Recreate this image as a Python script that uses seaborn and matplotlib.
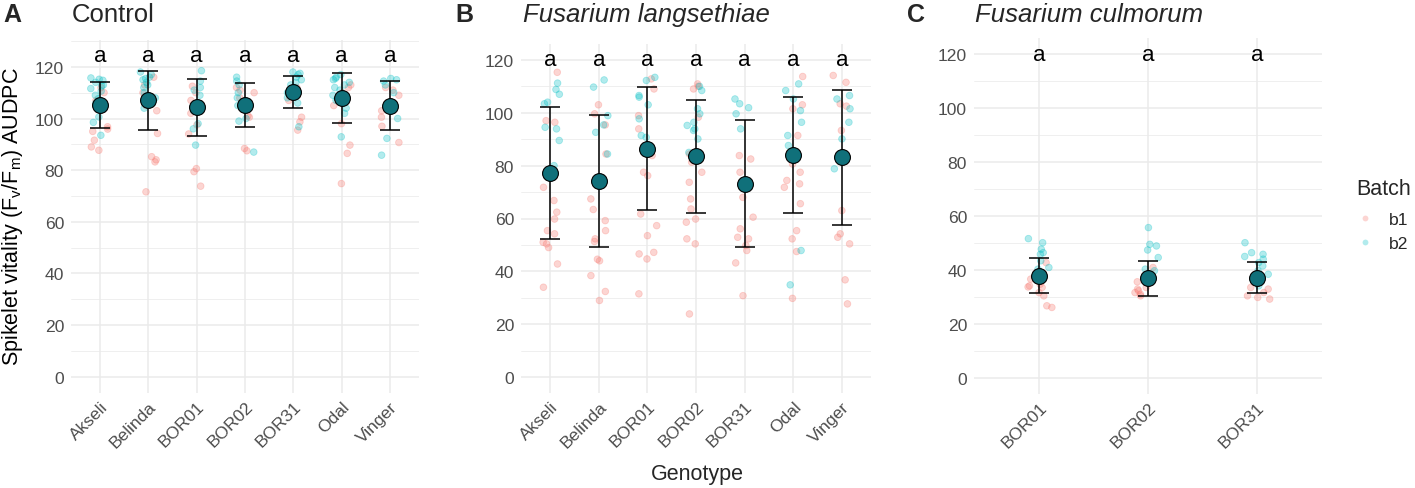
import numpy as np
import pandas as pd
import seaborn as sns
import matplotlib.pyplot as plt
from matplotlib.ticker import MultipleLocator

sns.set_theme(style="white")
plt.rcParams["font.family"] = ["Liberation Sans", "DejaVu Sans"]
np.random.seed(3)

genos_ab = ["Akseli", "Belinda", "BOR01", "BOR02", "BOR31", "Odal", "Vinger"]
genos_c = ["BOR01", "BOR02", "BOR31"]

# Control, batch b1 / b2
ctrl_b1 = {
    "Akseli": [112, 110, 107, 103, 96.8, 95.9, 95.0, 91.6, 89.0, 87.7],
    "Belinda": [116, 113, 110, 105, 103, 94.2, 85.2, 84.0, 83.2, 71.6],
    "BOR01": [112.5, 110, 107, 102, 97.5, 94, 80.6, 79.4, 73.8],
    "BOR02": [112, 111, 110, 108, 104, 101, 100.5, 88.4, 87.5],
    "BOR31": [112, 111, 109, 107, 100.5, 98.7, 95.5],
    "Odal": [113, 112, 110, 105, 98, 89.7, 86.5, 74.8],
    "Vinger": [112, 111, 109, 106, 103, 100.5, 97, 90.7],
}
ctrl_b2 = {
    "Akseli": [115.7, 115.2, 114.8, 114, 113, 112.6, 111.6, 110.6, 109, 107.7, 106, 104, 100.6, 98.5, 93.5],
    "Belinda": [118, 117, 116, 115.5, 115, 114, 113, 112, 110, 109, 108, 106, 104],
    "BOR01": [118.5, 114.5, 112, 111, 109, 103, 98, 96, 89.7],
    "BOR02": [116, 114.5, 113, 110, 108, 105, 100, 99, 87],
    "BOR31": [118, 117.5, 117, 116, 115, 114, 113, 112, 110, 108, 106, 96.8],
    "Odal": [117, 116, 115.5, 115, 114, 113, 112, 111, 109, 107, 104, 102, 92.9],
    "Vinger": [115.5, 115, 114.5, 113, 110, 100, 92.3, 85.8],
}

# Fusarium langsethiae
fl_b1 = {
    "Akseli": [115.3, 97, 96.4, 71.8, 66.8, 62.4, 59.8, 55.4, 54.2, 51, 50.4, 49, 42.8, 34],
    "Belinda": [103, 99.6, 95.4, 84.4, 67.4, 63.4, 59.2, 55.4, 52.3, 51.3, 44.6, 44, 38.4, 32.4, 29],
    "BOR01": [112.8, 109, 98.9, 93.9, 83.8, 77.5, 76.2, 61.7, 57.3, 53.5, 47.2, 46.6, 44.7, 31.5],
    "BOR02": [110.9, 110, 109, 98.3, 84.4, 81.3, 77.5, 73.7, 67.4, 63.6, 59.8, 58.6, 52.3, 50.4, 23.9],
    "BOR31": [83.8, 82.5, 77.5, 68, 60.5, 56.1, 52.9, 52.3, 49.8, 47.9, 43.2, 30.8],
    "Odal": [113.7, 103, 101.5, 91.4, 83.8, 80.6, 77.5, 74.4, 73.1, 71.8, 65.6, 55.4, 52.3, 47.5, 29.8],
    "Vinger": [114.1, 111.5, 103.4, 102.5, 93.3, 63, 54.2, 52.9, 50.4, 36.8, 27.7],
}
fl_b2 = {
    "Akseli": [111.2, 108.8, 107, 104, 103.4, 94.5, 93.9, 89.5, 80],
    "Belinda": [112.4, 109.7, 98.9, 95.4, 92.6, 84.4],
    "BOR01": [113.4, 112.2, 106.5, 105.9, 103, 97.7, 91.4, 90.7, 87],
    "BOR02": [110, 108.4, 101.5, 99.6, 96.4, 95.2, 93.9, 93.3, 90.1, 85],
    "BOR31": [105.2, 103.4, 101.9, 99.6, 93.9],
    "Odal": [110.9, 108.4, 105.2, 100.8, 96.4, 91.4, 87.6, 47.9, 34.9],
    "Vinger": [106.5, 105.2, 101.5, 96.4, 90.1, 84.4, 78.8],
}

# Fusarium culmorum
fc_b1 = {
    "BOR01": [42.7, 36.6, 34.7, 34.1, 33.7, 33.5, 31.6, 30.4, 26.7, 26.1],
    "BOR02": [40.9, 35.6, 33.5, 32.9, 32.3, 31.6, 31, 30.4],
    "BOR31": [33.5, 32.9, 31.6, 30.4, 29.8, 29.2],
}
fc_b2 = {
    "BOR01": [51.6, 50.1, 47.7, 46.4, 45.8, 43.4, 40.9, 40.3, 38.4],
    "BOR02": [55.7, 49.5, 48.9, 47.4, 44.6, 40.3, 39.7, 37.8, 36.6],
    "BOR31": [50.1, 46.4, 45.8, 45, 44, 42.7, 41.5, 39.7, 38.4, 36.6, 34.1],
}

# mean +- sd per genotype
ctrl_mean = [105.3, 107.0, 104.3, 105.1, 110.2, 108.0, 105.0]
ctrl_sd = [9.0, 11.4, 11.0, 8.5, 6.1, 9.7, 9.5]
fl_mean = [77.3, 74.2, 86.4, 83.5, 73.2, 83.9, 83.1]
fl_sd = [25.0, 25.0, 23.2, 21.3, 24.1, 21.9, 25.5]
fc_mean = [37.8, 37.0, 37.1]
fc_sd = [6.5, 6.5, 5.8]

letters_ab = ["a"] * 7
letters_c = ["a"] * 3
letter_y = [124.5, 120, 120]

pal = {"b1": "#F8766D", "b2": "#00BFC4"}


def long_df(b1, b2):
    rows = []
    for batch, d in (("b1", b1), ("b2", b2)):
        for g, vals in d.items():
            for v in vals:
                rows.append((g, batch, v))
    return pd.DataFrame(rows, columns=["Genotype", "Batch", "AUDPC"])


W, H = 1415, 489
fig = plt.figure(figsize=(W / 100, H / 100), dpi=100)


def px_axes(left, right, top, bottom):
    return fig.add_axes([left / W, 1 - bottom / H, (right - left) / W, (bottom - top) / H])


panels = [
    (px_axes(71, 419, 41, 394), ctrl_b1, ctrl_b2, genos_ab, ctrl_mean, ctrl_sd, letters_ab, (-6.3, 130.4), 0.2),
    (px_axes(521, 871, 45, 394), fl_b1, fl_b2, genos_ab, fl_mean, fl_sd, letters_ab, (-6, 126), 0.2),
    (px_axes(974, 1322, 39, 395), fc_b1, fc_b2, genos_c, fc_mean, fc_sd, letters_c, (-6, 126), 0.12),
]

for i, (ax, b1, b2, genos, mean, sd, lets, ylim, jit) in enumerate(panels):
    df = long_df(b1, b2)
    sns.stripplot(data=df, x="Genotype", y="AUDPC", hue="Batch", order=genos,
                  hue_order=["b1", "b2"], palette=pal, jitter=jit, alpha=0.3,
                  size=4.8, linewidth=0.6, edgecolor=None, legend=(i == 2), ax=ax, zorder=2)
    for c in ax.collections:
        c.set_edgecolor(c.get_facecolor())
    xs = np.arange(len(genos))
    ax.errorbar(xs, mean, yerr=sd, fmt="none", ecolor="black", elinewidth=1.1,
                capsize=7.5, capthick=1.1, zorder=3)
    sns.scatterplot(x=xs, y=mean, color="#10707A", edgecolor="black", linewidth=0.8,
                    s=130, ax=ax, zorder=4, legend=False)
    for x, t in zip(xs, lets):
        ax.text(x, letter_y[i], t, ha="center", va="center", fontsize=16, color="black")

    ax.set_xlim(-0.6, len(genos) - 0.4)
    ax.set_ylim(*ylim)
    ax.set_yticks([0, 20, 40, 60, 80, 100, 120])
    ax.yaxis.set_minor_locator(MultipleLocator(10))
    ax.grid(axis="y", which="major", color="#EBEBEB", linewidth=1.1, zorder=0)
    ax.grid(axis="y", which="minor", color="#EBEBEB", linewidth=0.55, zorder=0)
    ax.grid(axis="x", which="major", color="#EBEBEB", linewidth=1.1, zorder=0)
    ax.set_axisbelow(True)
    for s in ax.spines.values():
        s.set_visible(False)
    ax.tick_params(axis="both", which="both", length=0, labelsize=12.6, labelcolor="#4D4D4D")
    ax.tick_params(axis="y", pad=5)
    ax.tick_params(axis="x", pad=4)
    for lab in ax.get_xticklabels():
        lab.set_rotation(45)
        lab.set_ha("right")
        lab.set_va("top")
        lab.set_rotation_mode("anchor")
    ax.set_xlabel("")
    ax.set_ylabel("")

ax_a, ax_b, ax_c = panels[0][0], panels[1][0], panels[2][0]

fig.text(13 / W, 1 - 217 / H, r"Spikelet vitality (F$_\mathregular{v}$/F$_\mathregular{m}$) AUDPC",
         rotation=90, ha="center", va="center", fontsize=15.5, color="black")

fig.text(697 / W, 1 - 475 / H, "Genotype", ha="center", va="center", fontsize=15.5)

base_y = 1 - 22 / H
fig.text(3 / W, base_y, "A", fontsize=18, fontweight="bold", va="baseline")
fig.text(455 / W, base_y, "B", fontsize=18, fontweight="bold", va="baseline")
fig.text(907 / W, base_y, "C", fontsize=18, fontweight="bold", va="baseline")
fig.text(72 / W, base_y, "Control", fontsize=18.5, va="baseline")
fig.text(523 / W, base_y, "Fusarium langsethiae", fontsize=18.5, style="italic", va="baseline")
fig.text(975 / W, base_y, "Fusarium culmorum", fontsize=18.5, style="italic", va="baseline")

sns.move_legend(ax_c, loc="upper left", bbox_to_anchor=(1356 / W, 1 - 179 / H),
                bbox_transform=fig.transFigure, title="Batch", frameon=False,
                fontsize=12.6, title_fontsize=15.5, handletextpad=0.9, labelspacing=0.5,
                borderpad=0, borderaxespad=0, handlelength=1.0, alignment="left")
leg = ax_c.get_legend()
leg._legend_box.sep = 9
for h in leg.legend_handles:
    if hasattr(h, "set_markersize"):
        h.set_markersize(4.2)
        h.set_markeredgewidth(0)
    elif hasattr(h, "set_sizes"):
        h.set_sizes([16])

fig.savefig("out.png", dpi=100)
